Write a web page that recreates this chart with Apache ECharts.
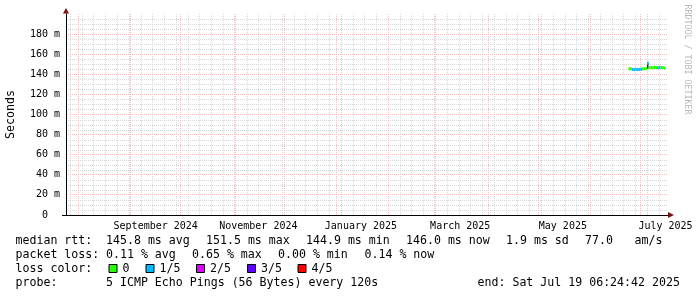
<!DOCTYPE html>
<html><head><meta charset="utf-8">
<script src="https://cdn.jsdelivr.net/npm/echarts@6/dist/echarts.min.js"></script>
<style>html,body{margin:0;padding:0;background:#fff}#c{width:697px;height:297px}</style>
</head><body><div id="c"></div>
<script>
const DAY = 86400000;
const MONO = '"DejaVu Sans Mono", monospace';

// ---- axis ranges / ticks ----
const axisStart = Date.UTC(2024, 6, 24, 16, 36);
const axisEnd = Date.UTC(2025, 6, 17, 11, 48);
const xLabelNames = ['September 2024', 'November 2024', 'January 2025', 'March 2025', 'May 2025', 'July 2025'];
const xLabelTimes = [Date.UTC(2024,8,16), Date.UTC(2024,10,16), Date.UTC(2025,0,16), Date.UTC(2025,2,16), Date.UTC(2025,4,16), Date.UTC(2025,6,16)];
const yMin = 0, yMax = 200, yStep = 20;
const yLabelValues = [0, 20, 40, 60, 80, 100, 120, 140, 160, 180];
const yMajorLines = [20, 40, 60, 80, 100, 120, 140, 160, 180];
const yMinorStep = 5;

// ---- data (daily median rtt in ms, loss count out of 5 pings) ----
const days = ['2025-06-24','2025-06-25','2025-06-26','2025-06-27','2025-06-28','2025-06-29','2025-06-30','2025-07-01',
  '2025-07-02','2025-07-03','2025-07-04','2025-07-05','2025-07-06','2025-07-07','2025-07-08','2025-07-09','2025-07-10',
  '2025-07-11','2025-07-12','2025-07-13','2025-07-14','2025-07-15'];
const medianMs = [145.4, 145.6, 144.8, 144.6, 145.0, 144.7, 144.9, 145.1,
  145.3, 145.6, 145.8, 151.0, 146.6, 146.8, 146.5, 146.9, 146.7,
  146.5, 146.8, 146.6, 146.7, 146.2];
const lossOf5 = [0, 0, 1, 1, 1, 1, 1, 1,
  0, 0, 0, 1, 0, 0, 0, 0, 0,
  1, 1, 0, 0, 0];
const smokeDays = ['2025-07-05'];
const smokeLow = [145.6];
const smokeHigh = [151.5];

const lossColors = ['#26ff00', '#00b8ff', '#dd00ff', '#5e00ff', '#ff0000'];
const lossLabels = ['0', '1/5', '2/5', '3/5', '4/5'];

// ---- legend texts ----
const rowMedian = ['median rtt:', '145.8 ms avg', '151.5 ms max', '144.9 ms min', '146.0 ms now', '1.9 ms sd', '77.0', 'am/s'];
const rowLoss = ['packet loss:', '0.11 % avg', '0.65 % max', '0.00 % min', '0.14 % now'];
const rowColorTitle = 'loss color:';
const rowProbe = ['probe:', '5 ICMP Echo Pings (56 Bytes) every 120s', 'end: Sat Jul 19 06:24:42 2025'];
const sideText = 'RRDTOOL / TOBI OETIKER';

// layout (pixel positions of legend pieces)
const rowMedianX = [15.5, 106, 206, 306, 406, 506, 585, 634.5];
const rowLossX = [15.5, 106, 192, 278, 364.5];
const rowProbeX = [15.5, 106, 477.5];
const swatchX = [108.5, 145.5, 196, 247, 297.5];
const rowY = [241, 255, 269, 283];

// grid lines
const monthLines = [];
for (let i = 0; i < 12; i++) monthLines.push(Date.UTC(2024, 7 + i, 1));
const weekLines = [];
for (let t = Date.UTC(2024, 6, 27); t < axisEnd; t += 7 * DAY) weekLines.push(t);
const yMinorLines = [];
for (let v = yMinorStep; v <= yMax; v += yMinorStep) if (v % yStep !== 0) yMinorLines.push(v);

const parseDay = s => { const [y, m, d] = s.split('-').map(Number); return Date.UTC(y, m - 1, d); };
const medianData = days.map((d, i) => [parseDay(d), medianMs[i], lossOf5[i]]);
const smokeData = smokeDays.map((d, i) => [parseDay(d), smokeLow[i], smokeHigh[i]]);

const RED = '#f5bebe', GRAY = '#d6d6d6';
const snap = (v, even) => even ? 2 * Math.round(v / 2) : Math.round(v);

function vLineSeries(times, color, z, even) {
  return {
    type: 'custom', silent: true, z, clip: true,
    data: times.map(t => [t]),
    encode: { x: 0 },
    renderItem: (params, api) => {
      const p0 = api.coord([api.value(0), yMin]);
      const p1 = api.coord([api.value(0), yMax]);
      const x = snap(p0[0], even) + 0.5;
      return { type: 'line', shape: { x1: x, y1: p0[1], x2: x, y2: p1[1] },
        style: { stroke: color, lineWidth: 1, lineDash: [1, 1] } };
    }
  };
}
function hLineSeries(values, color, z, even) {
  return {
    type: 'custom', silent: true, z, clip: true,
    data: values.map(v => [axisStart, v]),
    encode: { x: 0, y: 1 },
    renderItem: (params, api) => {
      const p0 = api.coord([axisStart, api.value(1)]);
      const p1 = api.coord([axisEnd, api.value(1)]);
      const y = snap(p0[1], even) + 0.5;
      return { type: 'line', shape: { x1: p0[0] + 2, y1: y, x2: p1[0], y2: y },
        style: { stroke: color, lineWidth: 1, lineDash: [1, 1] } };
    }
  };
}

const texts = [];
function addText(x, y, s) {
  texts.push({ type: 'text', x, y, style: { text: s, font: '11.6px ' + MONO, fill: '#000', verticalAlign: 'middle', align: 'left' } });
}
rowMedian.forEach((s, i) => addText(rowMedianX[i], rowY[0], s));
rowLoss.forEach((s, i) => addText(rowLossX[i], rowY[1], s));
addText(15.5, rowY[2], rowColorTitle);
lossLabels.forEach((s, i) => {
  texts.push({ type: 'rect', shape: { x: swatchX[i] + 0.5, y: rowY[2] - 4.5, width: 8, height: 8 },
    style: { fill: lossColors[i], stroke: '#000', lineWidth: 1 } });
  addText(swatchX[i] + 14, rowY[2], s);
});
rowProbe.forEach((s, i) => addText(rowProbeX[i], rowY[3], s));
texts.push({ type: 'text', x: 687.5, y: 4.5, rotation: -Math.PI / 2,
  style: { text: sideText, font: '8.3px ' + MONO, fill: '#b8b8b8', verticalAlign: 'middle', align: 'left' } });
// axis decorations: arrows and short left overhang of the x axis
texts.push({ type: 'polygon', shape: { points: [[63, 13.5], [69, 13.5], [66, 8]] }, style: { fill: '#7f1010' } });
texts.push({ type: 'polygon', shape: { points: [[668, 212], [668, 218], [674, 215]] }, style: { fill: '#7f1010' } });
texts.push({ type: 'line', shape: { x1: 62, y1: 215.5, x2: 67, y2: 215.5 }, style: { stroke: '#000', lineWidth: 1 } });

const chart = echarts.init(document.getElementById('c'), null, { renderer: 'canvas' });
chart.setOption({
  animation: false,
  backgroundColor: '#fff',
  grid: { left: 66, right: 29, top: 14, bottom: 82, containLabel: false, outerBoundsMode: 'none' },
  xAxis: {
    type: 'value', min: axisStart, max: axisEnd,
    axisLine: { show: true, lineStyle: { color: '#000', width: 1 } },
    axisTick: { show: false },
    splitLine: { show: false },
    axisLabel: {
      customValues: xLabelTimes,
      formatter: v => { const i = xLabelTimes.indexOf(v); return i >= 0 ? xLabelNames[i] : ''; },
      fontFamily: MONO, fontSize: 10, color: '#000', margin: 6
    }
  },
  yAxis: {
    type: 'value', min: yMin, max: yMax, interval: yStep,
    axisLine: { show: true, lineStyle: { color: '#000', width: 1 } },
    axisTick: { show: false },
    axisLabel: {
      customValues: yLabelValues,
      formatter: v => v === 0 ? '0  ' : v + ' m', fontFamily: MONO, fontSize: 10, color: '#000', margin: 6
    },
    splitLine: { show: false },
    name: 'Seconds', nameLocation: 'middle', nameGap: 49, nameRotate: 90,
    nameTextStyle: { fontFamily: MONO, fontSize: 11.6, color: '#000' }
  },
  series: [
    vLineSeries(weekLines, GRAY, 1, false),
    hLineSeries(yMinorLines, GRAY, 1, false),
    vLineSeries(monthLines, RED, 2, true),
    hLineSeries(yMajorLines, RED, 2, true),
    {
      type: 'custom', z: 5, data: smokeData, encode: { x: 0, y: [1, 2] },
      renderItem: (params, api) => {
        const lo = api.coord([api.value(0), api.value(1)]);
        const hi = api.coord([api.value(0), api.value(2)]);
        return { type: 'rect', shape: { x: Math.round(lo[0]), y: hi[1], width: 1.5, height: lo[1] - hi[1] }, style: { fill: '#202020' } };
      }
    },
    {
      type: 'custom', z: 6, data: medianData, encode: { x: 0, y: 1 },
      renderItem: (params, api) => {
        const t = api.value(0), v = api.value(1), l = api.value(2);
        const p0 = api.coord([t, v]);
        const p1 = api.coord([t + DAY, v]);
        return { type: 'rect', shape: { x: p0[0], y: p0[1] - 1.5, width: p1[0] - p0[0], height: 3 }, style: { fill: lossColors[l] } };
      }
    }
  ],
  graphic: texts
});
</script></body></html>
